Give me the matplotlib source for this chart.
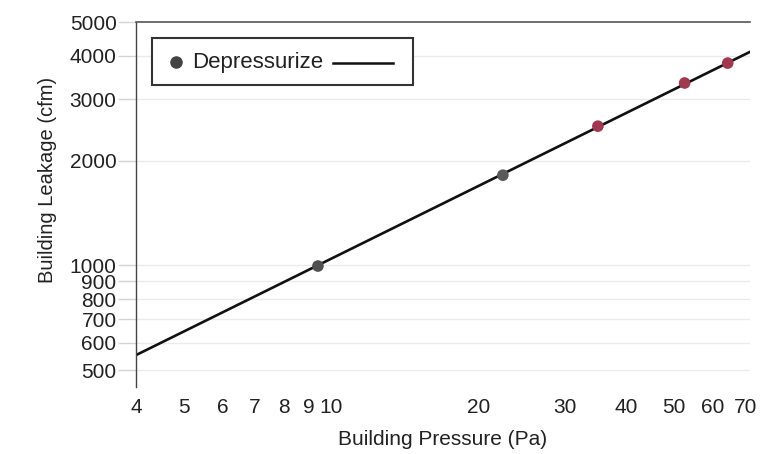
import matplotlib
matplotlib.use("Agg")
import matplotlib.pyplot as plt
from matplotlib.patches import Rectangle
from matplotlib.lines import Line2D
from matplotlib.ticker import FixedLocator, NullLocator, FixedFormatter

plt.rcParams['font.family'] = ['Liberation Sans', 'DejaVu Sans']

# Measured blower-door test points (pressure in Pa, flow in cfm)
pressure_pa = [9.4, 22.4, 35.0, 52.6, 64.4]
leakage_cfm = [995, 1815, 2510, 3340, 3810]
point_colors = ['#505050', '#5a5a5a', '#a0394f', '#a0394f', '#a0394f']

# Fitted power-law line end points
fit_pressure = [4.0, 71.4]
fit_leakage = [552, 4100]

x_ticks = [4, 5, 6, 7, 8, 9, 10, 20, 30, 40, 50, 60, 70]
x_tick_labels = ['4', '5', '6', '7', '8', '9', '10', '20', '30', '40', '50', '60', '70']
y_ticks = [500, 600, 700, 800, 900, 1000, 2000, 3000, 4000, 5000]
y_tick_labels = ['500', '600', '700', '800', '900', '1000', '2000', '3000', '4000', '5000']

series_label = 'Depressurize'

fig = plt.figure(figsize=(7.78, 4.54), dpi=100)
ax = fig.add_axes([136 / 778, 1 - 387 / 454, 614 / 778, 365 / 454])
ax.set_xscale('log')
ax.set_yscale('log')
ax.set_xlim(4, 71.5)
ax.set_ylim(447, 5000)

for s in ['right', 'bottom']:
    ax.spines[s].set_visible(False)
ax.spines['left'].set_color('#444444')
ax.spines['left'].set_linewidth(1.0)
ax.spines['top'].set_color('#555555')
ax.spines['top'].set_linewidth(1.2)

ax.xaxis.set_major_locator(FixedLocator(x_ticks))
ax.xaxis.set_major_formatter(FixedFormatter(x_tick_labels))
ax.xaxis.set_minor_locator(NullLocator())
ax.yaxis.set_major_locator(FixedLocator(y_ticks))
ax.yaxis.set_major_formatter(FixedFormatter(y_tick_labels))
ax.yaxis.set_minor_locator(NullLocator())

ax.tick_params(axis='x', length=0, pad=8, labelsize=15, labelcolor='#222222')
ax.tick_params(axis='y', length=13, width=1.0, color='#d4d4d4', pad=1,
               labelsize=15, labelcolor='#222222')
ax.yaxis.get_major_ticks()[-1].tick1line.set_color('#555555')

for v in y_ticks[:-1]:
    ax.axhline(v, color='#ebebeb', lw=1.0, zorder=0)

ax.plot(fit_pressure, fit_leakage, color='#111111', lw=1.9, zorder=2)
ax.scatter(pressure_pa, leakage_cfm, s=70, c=point_colors, zorder=3,
           edgecolors='none')

ax.set_xlabel('Building Pressure (Pa)', fontsize=15, color='#222222')
ax.set_ylabel('Building Leakage (cfm)', fontsize=14.5, color='#222222')
ax.xaxis.set_label_coords(0.5, -0.118)
ax.yaxis.set_label_coords(-0.128, 0.567)

# Legend box: marker, label, then line sample
def fx(px):
    return (px - 136) / 614

def fy(py):
    return (387 - py) / 365

ax.add_patch(Rectangle((fx(152), fy(85)), fx(413) - fx(152), fy(38) - fy(85),
                       transform=ax.transAxes, fill=True, facecolor='white',
                       edgecolor='#333333', lw=1.5, zorder=4))
ax.add_line(Line2D([fx(176)], [fy(62)], transform=ax.transAxes, marker='o',
                   markersize=8, color='#444444', ls='none', zorder=5))
ax.text(fx(192), fy(63), series_label, transform=ax.transAxes, fontsize=16,
        color='#222222', va='center', ha='left', zorder=5)
ax.add_line(Line2D([fx(333), fx(393)], [fy(63), fy(63)], transform=ax.transAxes,
                   color='#111111', lw=1.8, zorder=5))

fig.savefig('out.png', dpi=100)
